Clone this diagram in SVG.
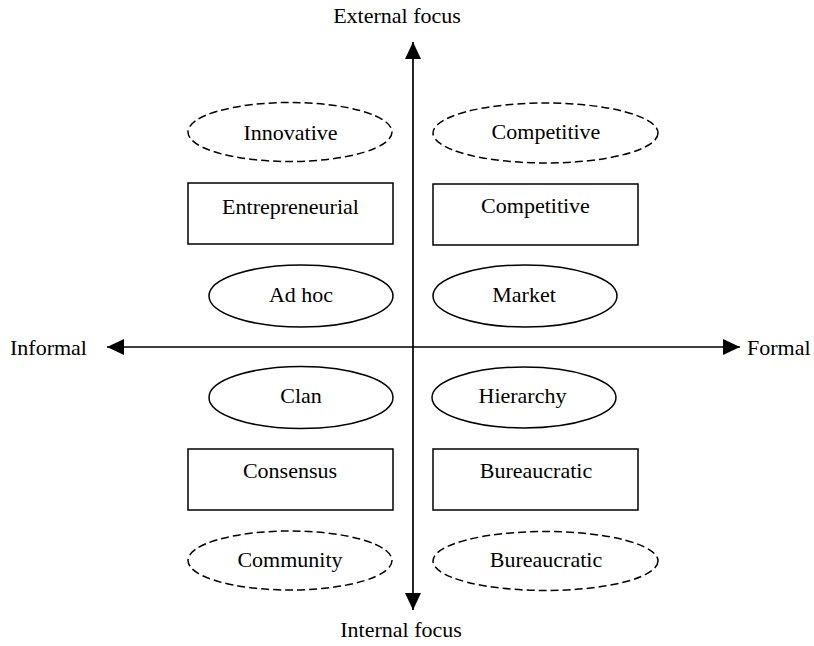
<svg xmlns="http://www.w3.org/2000/svg" width="814" height="646" viewBox="0 0 814 646">
  <style>
    text { font-family: "Liberation Serif", "Times New Roman", serif; font-size: 22px; fill: #000; }
    .c { text-anchor: middle; }
    .shape { fill: #fff; stroke: #000; stroke-width: 1.5; }
    .dash { fill: #fff; stroke: #000; stroke-width: 1.5; stroke-dasharray: 8 4; }
    .axis { stroke: #000; stroke-width: 1.7; fill: none; }
  </style>
  <defs>
    <marker id="arrow" viewBox="0 0 17 16" refX="17" refY="8" markerWidth="17" markerHeight="16" markerUnits="userSpaceOnUse" orient="auto-start-reverse">
      <path d="M0,0 L17,8 L0,16 Z" fill="#000"/>
    </marker>
  </defs>
  <rect width="814" height="646" fill="#fff"/>

  <!-- axes -->
  <g id="connectors">
    <line class="axis" x1="413" y1="42" x2="413" y2="610" marker-start="url(#arrow)" marker-end="url(#arrow)"/>
    <line class="axis" x1="107" y1="347" x2="740" y2="347" marker-start="url(#arrow)" marker-end="url(#arrow)"/>
  </g>

  <!-- axis labels -->
  <g id="axis-labels">
    <text x="397" y="23" class="c">External focus</text>
    <text x="401" y="637" class="c">Internal focus</text>
    <text x="10" y="355">Informal</text>
    <text x="747" y="355">Formal</text>
  </g>

  <!-- upper-left quadrant -->
  <g id="innovative">
    <ellipse class="dash" cx="290" cy="132" rx="102" ry="29.5"/>
    <text x="290.5" y="140" class="c">Innovative</text>
  </g>
  <g id="entrepreneurial">
    <rect class="shape" x="188" y="183" width="205" height="61"/>
    <text x="290.5" y="214" class="c">Entrepreneurial</text>
  </g>
  <g id="adhoc">
    <ellipse class="shape" cx="301" cy="296" rx="92" ry="31"/>
    <text x="301" y="302" class="c">Ad hoc</text>
  </g>

  <!-- upper-right quadrant -->
  <g id="competitive-outer">
    <ellipse class="dash" cx="545.5" cy="133" rx="112.5" ry="30"/>
    <text x="546" y="139" class="c">Competitive</text>
  </g>
  <g id="competitive">
    <rect class="shape" x="433" y="184" width="205" height="61"/>
    <text x="535.5" y="213" class="c">Competitive</text>
  </g>
  <g id="market">
    <ellipse class="shape" cx="525" cy="296" rx="92" ry="31"/>
    <text x="524" y="302" class="c">Market</text>
  </g>

  <!-- lower-left quadrant -->
  <g id="clan">
    <ellipse class="shape" cx="301" cy="397.5" rx="92" ry="31"/>
    <text x="301" y="403" class="c">Clan</text>
  </g>
  <g id="consensus">
    <rect class="shape" x="188" y="449" width="205" height="61"/>
    <text x="290" y="478" class="c">Consensus</text>
  </g>
  <g id="community">
    <ellipse class="dash" cx="290" cy="560.5" rx="102" ry="29.5"/>
    <text x="290" y="567" class="c">Community</text>
  </g>

  <!-- lower-right quadrant -->
  <g id="hierarchy">
    <ellipse class="shape" cx="524" cy="397.5" rx="92" ry="30.5"/>
    <text x="522.5" y="403" class="c">Hierarchy</text>
  </g>
  <g id="bureaucratic">
    <rect class="shape" x="433" y="449" width="205" height="61"/>
    <text x="536" y="478" class="c">Bureaucratic</text>
  </g>
  <g id="bureaucratic-outer">
    <ellipse class="dash" cx="545.5" cy="561" rx="112.5" ry="29.5"/>
    <text x="546" y="567" class="c">Bureaucratic</text>
  </g>
</svg>
